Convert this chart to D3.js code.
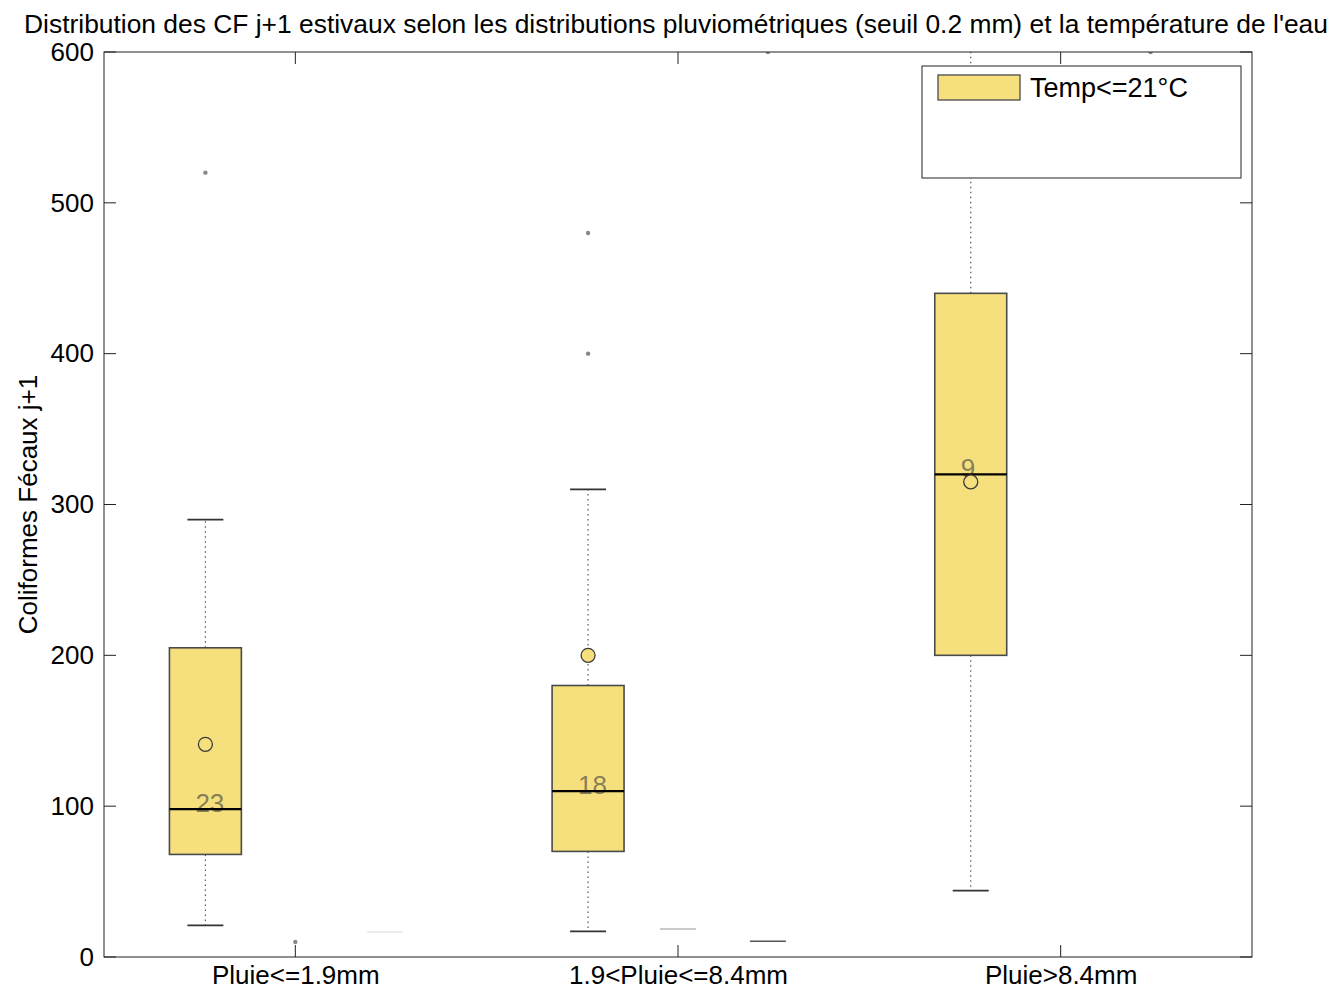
<!DOCTYPE html>
<html><head><meta charset="utf-8">
<script src="https://cdn.jsdelivr.net/npm/d3@7"></script>
<style>body{margin:0;background:#fff}svg{display:block;font-family:"Liberation Sans",Arial,sans-serif}</style>
</head><body><svg id="c" width="1337" height="995"></svg>
<script>
// ---- data ----
const categories = ["Pluie<=1.9mm", "1.9<Pluie<=8.4mm", "Pluie>8.4mm"];
const whiskerLow = [21, 17, 44];
const q1 = [68, 70, 200];
const median = [98, 110, 320];
const q3 = [205, 180, 440];
const whiskerHigh = [290, 310, 700];
const means = [141, 200, 315];
const counts = [23, 18, 9];
const outliers = [[520], [480, 400], []];
const yTicks = [0, 100, 200, 300, 400, 500, 600];
const seriesName = "Temp<=21°C";
// remnants of hidden temperature classes (slot: 0 left, 1 centre, 2 right)
const ghostOutliers = [{c: 0, slot: 1, v: 10}, {c: 1, slot: 2, v: 600}, {c: 2, slot: 2, v: 600}];
const ghostCaps = [{c: 1, slot: 1, v: 18.5, col: "#b8b8b8"}, {c: 1, slot: 2, v: 10.5, col: "#555"}, {c: 0, slot: 2, v: 16.5, col: "#e6e6e6"}];

// ---- layout ----
const L = 104, R = 1252, T = 52, B = 957;
const FS = 26;
const svg = d3.select("#c");
const x = d3.scaleLinear().domain([0.5, 3.5]).range([L, R]);
const y = d3.scaleLinear().domain([0, 600]).range([B, T]);
const slotOff = [-0.235, 0, 0.235];
const boxW = 0.188, capW = 0.094;
const fillC = "#f6e07e", edgeC = "#4a4a4a";

svg.append("defs").append("clipPath").attr("id", "pc")
  .append("rect").attr("x", L).attr("y", T).attr("width", R - L).attr("height", B - T);

const g = svg.append("g").attr("clip-path", "url(#pc)");

// ghost remnants
ghostCaps.forEach(d => {
  g.append("line").attr("x1", x(d.c + 1 + slotOff[d.slot] - capW / 2)).attr("x2", x(d.c + 1 + slotOff[d.slot] + capW / 2))
    .attr("y1", y(d.v)).attr("y2", y(d.v)).attr("stroke", d.col).attr("stroke-width", 1.5);
});

categories.forEach((cat, i) => {
  const c = i + 1 + slotOff[0];
  const cx = x(c);
  // whiskers dotted
  g.append("line").attr("x1", cx).attr("x2", cx).attr("y1", y(q3[i])).attr("y2", y(whiskerHigh[i]))
    .attr("stroke", "#555").attr("stroke-width", 1.2).attr("stroke-dasharray", "1.5,3.5");
  g.append("line").attr("x1", cx).attr("x2", cx).attr("y1", y(q1[i])).attr("y2", y(whiskerLow[i]))
    .attr("stroke", "#555").attr("stroke-width", 1.2).attr("stroke-dasharray", "1.5,3.5");
  // caps
  [whiskerLow[i], whiskerHigh[i]].forEach(v => {
    g.append("line").attr("x1", x(c - capW / 2)).attr("x2", x(c + capW / 2))
      .attr("y1", y(v)).attr("y2", y(v)).attr("stroke", "#333").attr("stroke-width", 1.6);
  });
  // box
  g.append("rect").attr("x", x(c - boxW / 2)).attr("width", x(c + boxW / 2) - x(c - boxW / 2))
    .attr("y", y(q3[i])).attr("height", y(q1[i]) - y(q3[i]))
    .attr("fill", fillC).attr("stroke", edgeC).attr("stroke-width", 1.6);
  // count label
  g.append("text").attr("x", cx - 10).attr("y", y(median[i]) + 3).attr("text-anchor", "start")
    .attr("font-size", FS).attr("fill", "#7a7250").attr("fill-opacity", 0.9).text(counts[i]);
  // median
  g.append("line").attr("x1", x(c - boxW / 2)).attr("x2", x(c + boxW / 2))
    .attr("y1", y(median[i])).attr("y2", y(median[i])).attr("stroke", "#000").attr("stroke-width", 2.2);
  // mean
  g.append("circle").attr("cx", cx).attr("cy", y(means[i])).attr("r", 7)
    .attr("fill", fillC).attr("stroke", "#3a3a3a").attr("stroke-width", 1.3);
  // outliers
  outliers[i].forEach(v => {
    g.append("circle").attr("cx", cx).attr("cy", y(v)).attr("r", 2.2).attr("fill", "#888");
  });
});

ghostOutliers.forEach(d => {
  g.append("circle").attr("cx", x(d.c + 1 + slotOff[d.slot])).attr("cy", y(d.v)).attr("r", 2.2).attr("fill", "#888");
});

// ---- axes ----
const tickLen = 12;
const ax = svg.append("g").attr("stroke", "#222").attr("stroke-width", 1);
ax.append("rect").attr("x", L).attr("y", T).attr("width", R - L).attr("height", B - T).attr("fill", "none");
yTicks.forEach(t => {
  ax.append("line").attr("x1", L).attr("x2", L + tickLen).attr("y1", y(t)).attr("y2", y(t));
  ax.append("line").attr("x1", R).attr("x2", R - tickLen).attr("y1", y(t)).attr("y2", y(t));
});
categories.forEach((cat, i) => {
  ax.append("line").attr("x1", x(i + 1)).attr("x2", x(i + 1)).attr("y1", B).attr("y2", B - tickLen);
  ax.append("line").attr("x1", x(i + 1)).attr("x2", x(i + 1)).attr("y1", T).attr("y2", T + tickLen);
});
const yAxisG = svg.append("g").attr("transform", `translate(${L},0)`)
  .call(d3.axisLeft(y).tickValues(yTicks).tickSize(0).tickPadding(10).tickFormat(d3.format("d")));
yAxisG.select(".domain").remove();
yAxisG.selectAll("text").attr("font-size", FS).attr("fill", "#000").attr("font-family", "Liberation Sans, Arial, sans-serif");
const xAxisG = svg.append("g").attr("transform", `translate(0,${B})`)
  .call(d3.axisBottom(x).tickValues([1, 2, 3]).tickSize(0).tickPadding(9).tickFormat(d => categories[d - 1]));
xAxisG.select(".domain").remove();
xAxisG.selectAll("text").attr("font-size", FS).attr("fill", "#000").attr("font-family", "Liberation Sans, Arial, sans-serif");

// ---- titles ----
svg.append("text").attr("x", 676).attr("y", 33).attr("text-anchor", "middle").attr("font-size", 26.4)
  .text("Distribution des CF j+1 estivaux selon les distributions pluviométriques (seuil 0.2 mm) et la température de l'eau");
svg.append("text").attr("transform", `translate(37,${(T + B) / 2}) rotate(-90)`).attr("text-anchor", "middle")
  .attr("font-size", FS).text("Coliformes Fécaux j+1");

// ---- legend ----
const lg = svg.append("g");
lg.append("rect").attr("x", 922).attr("y", 66).attr("width", 319).attr("height", 112).attr("fill", "#fff").attr("stroke", "#222");
lg.append("rect").attr("x", 938).attr("y", 75).attr("width", 82).attr("height", 25).attr("fill", fillC).attr("stroke", edgeC).attr("stroke-width", 1.3);
lg.append("text").attr("x", 1030).attr("y", 97).attr("font-size", 27).text(seriesName);
</script></body></html>
